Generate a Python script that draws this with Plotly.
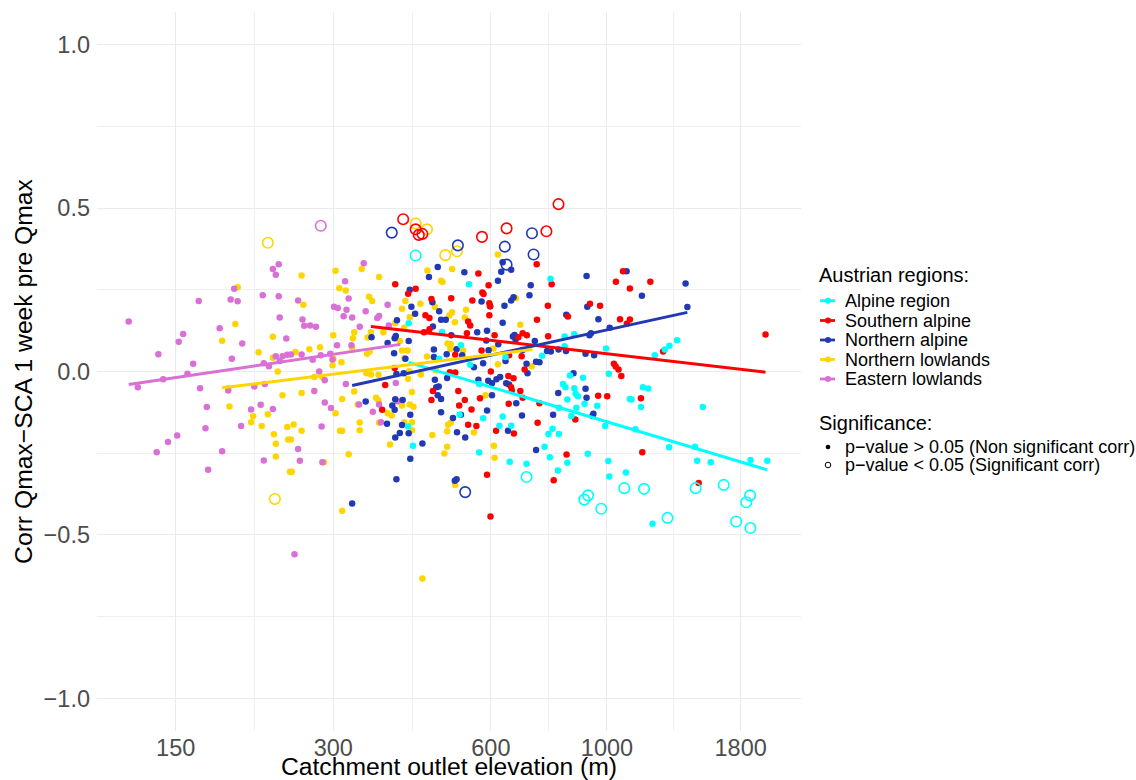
import plotly.graph_objects as go

FONT = "Liberation Sans, Arial, sans-serif"

# ---------------- data (elevation in m, correlation) ----------------
regions = ["Alpine region", "Southern alpine", "Northern alpine", "Northern lowlands", "Eastern lowlands"]
region_colors = ["#00FFFF", "#FF0000", "#2139B5", "#FFD500", "#DA70D6"]

# Eastern lowlands
east_elev = [236, 230, 233, 194, 166, 191, 197, 220, 236, 122,
             237, 182, 155, 152, 201, 244, 139, 162, 192, 233,
             240, 245, 221, 226, 237, 127, 142, 158, 167, 212,
             222, 189, 172, 209, 218, 230, 200, 171, 151, 145,
             138, 184, 221, 173, 343, 316, 321, 257, 381, 301,
             306, 318, 346, 314, 326, 364, 367, 262, 264, 271,
             278, 337, 383, 305, 325, 296, 284, 261, 274, 249,
             299, 282, 289, 317, 395, 276, 289, 297, 336, 367,
             357, 398, 370, 285, 257, 259, 286, 253]
east_corr = [0.328, 0.314, 0.296, 0.253, 0.216, 0.220, 0.215, 0.233, 0.230, 0.153,
             0.165, 0.132, 0.115, 0.091, 0.086, 0.101, 0.053, 0.024, 0.039, 0.047,
             0.047, 0.051, 0.025, 0.016, 0.032, -0.048, -0.024, -0.007, -0.051, -0.046,
             -0.038, -0.058, -0.109, -0.116, -0.102, -0.115, -0.167, -0.174, -0.196, -0.216,
             -0.247, -0.244, -0.272, -0.301, 0.331, 0.276, 0.223, 0.217, 0.204, 0.198,
             0.194, 0.189, 0.184, 0.169, 0.165, 0.164, 0.170, 0.159, 0.140, 0.141,
             0.137, 0.137, 0.141, 0.080, 0.080, 0.054, 0.050, 0.052, 0.036, 0.052,
             0.037, 0.000, -0.027, -0.038, -0.035, -0.060, -0.095, -0.112, -0.101, -0.101,
             -0.123, -0.091, -0.155, -0.168, -0.237, -0.273, -0.278, -0.559]
east_sig_elev = [284]
east_sig_corr = [0.446]

# Northern lowlands
nlow_elev = [197, 195, 184, 230, 216, 230, 235, 189, 190, 240,
             225, 211, 209, 219, 245, 231, 246, 233, 233, 248,
             340, 303, 261, 367, 308, 317, 454, 482, 485, 506,
             351, 356, 263, 412, 406, 440, 469, 506, 500, 512,
             394, 420, 410, 300, 329, 327, 349, 354, 374, 402,
             270, 283, 254, 300, 311, 299, 326, 348, 352, 406,
             416, 410, 453, 496, 503, 502, 276, 286, 354, 366,
             419, 417, 441, 471, 347, 261, 312, 303, 329, 334,
             362, 366, 381, 388, 406, 420, 427, 424, 367, 337,
             337, 309, 312, 252, 261, 410, 424, 424, 385, 464,
             497, 503, 495, 495, 489, 249, 321, 288, 250, 513,
             312, 444, 619, 670, 538, 535, 683, 607, 531, 619,
             718, 586, 557, 608, 610]
nlow_corr = [0.258, 0.145, 0.094, 0.106, 0.059, 0.042, 0.000, -0.051, -0.107, -0.073,
             -0.131, -0.137, -0.155, -0.167, -0.170, -0.192, -0.208, -0.221, -0.260, -0.307,
             0.314, 0.308, 0.294, 0.289, 0.255, 0.248, 0.309, 0.278, 0.274, 0.314,
             0.229, 0.216, 0.204, 0.216, 0.192, 0.207, 0.197, 0.181, 0.171, 0.151,
             0.148, 0.166, 0.134, 0.111, 0.120, 0.102, 0.104, 0.120, 0.120, 0.093,
             0.068, 0.074, 0.060, 0.039, 0.028, 0.019, 0.073, 0.054, 0.061, 0.064,
             0.064, 0.041, 0.046, 0.086, 0.083, 0.069, -0.017, -0.017, -0.009, -0.010,
             0.001, -0.022, -0.009, 0.003, -0.005, -0.066, -0.084, -0.128, -0.061, -0.101,
             -0.080, -0.089, -0.128, -0.135, -0.104, -0.101, -0.108, -0.063, -0.157, -0.156,
             -0.180, -0.181, -0.181, -0.162, -0.181, -0.155, -0.155, -0.180, -0.223, -0.194,
             -0.163, -0.157, -0.183, -0.230, -0.251, -0.208, -0.253, -0.278, -0.307, -0.347,
             -0.426, -0.633, 0.358, 0.224, 0.189, 0.165, 0.143, 0.070, 0.064, 0.022,
             0.016, -0.073, -0.187, -0.227, -0.264]
nlow_sig_elev = [225, 232, 431, 453, 517, 491]
nlow_sig_corr = [0.394, -0.390, 0.453, 0.435, 0.368, 0.356]

# Northern alpine
nalp_elev = [475, 457, 420, 464, 423, 430, 478, 482, 492, 397,
             465, 504, 355, 393, 395, 381, 418, 392, 412, 467,
             467, 494, 516, 396, 409, 469, 495, 472, 477, 346,
             389, 393, 394, 407, 421, 475, 482, 482, 380, 406,
             418, 402, 394, 444, 508, 517, 421, 396, 512, 516,
             326, 632, 656, 628, 534, 619, 715, 914, 1090, 711,
             663, 656, 576, 598, 637, 917, 836, 963, 632, 565,
             590, 661, 666, 669, 728, 926, 932, 1012, 588, 620,
             594, 529, 690, 768, 781, 808, 835, 910, 945, 557,
             580, 640, 702, 732, 743, 705, 625, 615, 863, 568,
             593, 603, 642, 650, 910, 603, 526, 590, 536, 671,
             688, 647, 732, 789, 807, 914, 942, 938, 1413, 1166,
             1424]
nalp_corr = [0.320, 0.289, 0.250, 0.212, 0.198, 0.177, 0.184, 0.158, 0.158, 0.157,
             0.138, 0.111, 0.105, 0.102, 0.109, 0.087, 0.093, 0.056, 0.039, 0.067,
             0.044, 0.053, 0.068, -0.008, -0.005, -0.025, -0.020, -0.048, -0.046, -0.092,
             -0.104, -0.117, -0.085, -0.087, -0.132, -0.073, -0.084, -0.125, -0.160, -0.164,
             -0.189, -0.188, -0.202, -0.220, -0.142, -0.186, -0.267, -0.330, -0.334, -0.330,
             -0.404, 0.334, 0.311, 0.305, 0.304, 0.278, 0.264, 0.292, 0.307, 0.233,
             0.227, 0.217, 0.214, 0.200, 0.201, 0.198, 0.174, 0.160, 0.149, 0.120,
             0.125, 0.107, 0.112, 0.098, 0.093, 0.111, 0.117, 0.134, 0.095, 0.083,
             0.065, 0.050, 0.066, 0.063, 0.061, 0.067, 0.063, 0.054, 0.050, 0.013,
             0.025, 0.032, 0.024, 0.030, 0.028, -0.005, -0.017, -0.024, -0.005, -0.025,
             -0.028, -0.036, -0.036, -0.040, -0.053, -0.073, -0.132, -0.119, -0.202, -0.097,
             -0.135, -0.181, -0.240, -0.132, -0.066, -0.080, -0.129, -0.136, 0.269, 0.232,
             0.197]
nalp_sig_elev = [388, 519, 719, 638, 724, 643, 536]
nalp_sig_corr = [0.425, 0.386, 0.423, 0.382, 0.358, 0.327, -0.369]

# Southern alpine
salp_elev = [394, 431, 417, 462, 504, 450, 458, 458, 447, 513,
             393, 377, 501, 513, 372, 465, 462, 520, 522, 734,
             568, 594, 784, 1073, 1040, 578, 581, 553, 596, 598,
             771, 928, 970, 543, 548, 596, 735, 842, 1059, 1091,
             540, 610, 677, 690, 703, 772, 576, 687, 650, 600,
             696, 648, 663, 1031, 1039, 1052, 1065, 656, 535, 572,
             658, 683, 551, 543, 563, 649, 690, 743, 737, 614,
             664, 870, 962, 1001, 837, 791, 590, 599, 1210, 1106,
             1106, 2008, 1280, 1161, 1168, 1497]
salp_corr = [0.267, 0.253, 0.238, 0.222, 0.224, 0.172, 0.164, 0.129, 0.120, 0.051,
             0.011, -0.041, -0.002, -0.003, -0.117, -0.060, -0.087, -0.060, -0.104, 0.328,
             0.300, 0.264, 0.267, 0.307, 0.275, 0.242, 0.237, 0.217, 0.209, 0.200,
             0.201, 0.207, 0.201, 0.153, 0.141, 0.172, 0.158, 0.168, 0.160, 0.146,
             0.117, 0.111, 0.105, 0.117, 0.111, 0.108, 0.064, 0.047, 0.050, 0.000,
             0.006, -0.014, -0.021, 0.024, 0.015, 0.006, -0.014, -0.048, -0.087, -0.082,
             -0.058, -0.060, -0.116, -0.163, -0.167, -0.099, -0.080, -0.097, -0.157, -0.181,
             -0.190, -0.147, -0.074, -0.076, -0.254, -0.333, -0.316, -0.444, 0.275, 0.254,
             0.159, 0.113, 0.061, -0.082, -0.247, -0.341]
salp_sig_elev = [808, 577, 643, 766, 408, 431, 437, 444]
salp_sig_corr = [0.512, 0.412, 0.438, 0.429, 0.466, 0.435, 0.418, 0.421]

# Alpine region
alp_elev = [418, 484, 478, 417, 426, 523, 545, 780, 830, 866,
            526, 752, 830, 996, 548, 640, 850, 900, 1008, 570,
            824, 833, 866, 580, 632, 623, 656, 570, 652, 702,
            760, 773, 787, 809, 840, 871, 880, 810, 855, 874,
            906, 958, 992, 1106, 778, 840, 919, 806, 1006, 1010,
            1087, 1234, 1290, 1316, 1361, 1171, 1199, 1114, 1161, 1524,
            1133, 1314, 1472, 1487, 1578, 1880, 2024, 1222]
alp_corr = [0.148, 0.121, 0.039, -0.168, -0.227, -0.132, 0.267, 0.284, 0.107, 0.114,
            0.080, 0.048, 0.077, 0.070, 0.021, 0.044, -0.012, -0.019, -0.007, -0.038,
            -0.038, -0.048, -0.051, -0.143, -0.138, -0.166, -0.166, -0.248, -0.276, -0.282,
            -0.230, -0.191, -0.175, -0.191, -0.086, -0.068, -0.076, -0.111, -0.136, -0.111,
            -0.099, -0.105, -0.167, -0.084, -0.262, -0.279, -0.252, -0.303, -0.274, -0.321,
            -0.309, 0.050, 0.067, 0.079, 0.096, -0.048, -0.052, -0.086, -0.109, -0.109,
            -0.177, -0.232, -0.230, -0.273, -0.278, -0.271, -0.273, -0.466]
alp_sig_elev = [431, 702, 920, 905, 975, 1079, 1177, 1477, 1671, 1876, 1845, 1305, 1765, 1879]
alp_sig_corr = [0.355, -0.323, -0.379, -0.392, -0.420, -0.357, -0.359, -0.357, -0.347, -0.379,
                -0.400, -0.448, -0.459, -0.479]

# fitted trend lines (start / end) per region
alp_trend_elev, alp_trend_corr = [418, 2024], [0.028, -0.301]
salp_trend_elev, salp_trend_corr = [354, 2008], [0.138, -0.002]
nalp_trend_elev, nalp_trend_corr = [326, 1424], [-0.043, 0.181]
nlow_trend_elev, nlow_trend_corr = [184, 720], [-0.050, 0.067]
east_trend_elev, east_trend_corr = [122, 403], [-0.040, 0.083]

x_ticks = [150, 300, 600, 1000, 1800]
y_ticks = [-1.0, -0.5, 0.0, 0.5, 1.0]
y_ticktext = ["\u22121.0", "\u22120.5", "0.0", "0.5", "1.0"]
legend_title = "Austrian regions:"
sig_title = "Significance:"
sig_labels = ["p\u2212value > 0.05 (Non significant corr)", "p\u2212value < 0.05 (Significant corr)"]

# ---------------- layout constants ----------------
W, H = 1136, 780
ML, MR, MT, MB = 97, 335, 12, 49
PW, PH = W - ML - MR, H - MT - MB


def paper_x(px):
    return (px - ML) / PW


def paper_y(py):
    return (H - MB - py) / PH


groups = {
    "Eastern lowlands": (east_elev, east_corr, east_sig_elev, east_sig_corr, east_trend_elev, east_trend_corr),
    "Northern lowlands": (nlow_elev, nlow_corr, nlow_sig_elev, nlow_sig_corr, nlow_trend_elev, nlow_trend_corr),
    "Northern alpine": (nalp_elev, nalp_corr, nalp_sig_elev, nalp_sig_corr, nalp_trend_elev, nalp_trend_corr),
    "Southern alpine": (salp_elev, salp_corr, salp_sig_elev, salp_sig_corr, salp_trend_elev, salp_trend_corr),
    "Alpine region": (alp_elev, alp_corr, alp_sig_elev, alp_sig_corr, alp_trend_elev, alp_trend_corr),
}
col = dict(zip(regions, region_colors))
draw_order = ["Northern lowlands", "Eastern lowlands", "Northern alpine", "Southern alpine", "Alpine region"]

fig = go.Figure()
for r in draw_order:
    ex, cy, sx, sy, tx, ty = groups[r]
    fig.add_trace(go.Scatter(x=ex, y=cy, mode="markers", name=r, showlegend=False,
                             marker=dict(size=6.5, color=col[r], line=dict(width=0))))
    fig.add_trace(go.Scatter(x=sx, y=sy, mode="markers", name=r, showlegend=False,
                             marker=dict(size=10.5, symbol="circle-open", color=col[r],
                                         line=dict(width=1.6, color=col[r]))))
for r in regions:
    ex, cy, sx, sy, tx, ty = groups[r]
    fig.add_trace(go.Scatter(x=tx, y=ty, mode="lines", name=r, showlegend=False,
                             line=dict(color=col[r], width=3)))

# ---------------- legend (drawn as text + keys to match spacing) ----------------
annotations = []
shapes = []
key_x0, key_x1, key_cx, text_x, title_x = 820, 835, 828, 843, 817
annotations.append(dict(text=legend_title, x=paper_x(title_x), y=paper_y(275), xref="paper", yref="paper",
                        xanchor="left", yanchor="middle", showarrow=False,
                        font=dict(size=20, color="black", family=FONT)))
item_y = [300.7, 320.5, 340, 359.5, 379]
for r, yy in zip(regions, item_y):
    annotations.append(dict(text=r, x=paper_x(text_x), y=paper_y(yy), xref="paper", yref="paper",
                            xanchor="left", yanchor="middle", showarrow=False,
                            font=dict(size=18, color="black", family=FONT)))
    shapes.append(dict(type="line", xref="paper", yref="paper",
                       x0=paper_x(key_x0), x1=paper_x(key_x1), y0=paper_y(yy), y1=paper_y(yy),
                       line=dict(color=col[r], width=2.8)))
    shapes.append(dict(type="circle", xref="paper", yref="paper", xsizemode="pixel", ysizemode="pixel",
                       xanchor=paper_x(key_cx), yanchor=paper_y(yy), x0=-3, x1=3, y0=-3, y1=3,
                       fillcolor=col[r], line=dict(width=0)))

annotations.append(dict(text=sig_title, x=paper_x(title_x), y=paper_y(423), xref="paper", yref="paper",
                        xanchor="left", yanchor="middle", showarrow=False,
                        font=dict(size=20, color="black", family=FONT)))
sig_y = [447, 465]
for i, (lab, yy) in enumerate(zip(sig_labels, sig_y)):
    annotations.append(dict(text=lab, x=paper_x(text_x), y=paper_y(yy), xref="paper", yref="paper",
                            xanchor="left", yanchor="middle", showarrow=False,
                            font=dict(size=18, color="black", family=FONT)))
    if i == 0:
        shapes.append(dict(type="circle", xref="paper", yref="paper", xsizemode="pixel", ysizemode="pixel",
                           xanchor=paper_x(key_cx), yanchor=paper_y(yy), x0=-2.3, x1=2.3, y0=-2.3, y1=2.3,
                           fillcolor="black", line=dict(width=0)))
    else:
        shapes.append(dict(type="circle", xref="paper", yref="paper", xsizemode="pixel", ysizemode="pixel",
                           xanchor=paper_x(key_cx), yanchor=paper_y(yy), x0=-2.8, x1=2.8, y0=-2.8, y1=2.8,
                           fillcolor="rgba(0,0,0,0)", line=dict(width=1, color="black")))

grid_major = "#EBEBEB"
fig.update_layout(
    width=W, height=H,
    margin=dict(l=ML, r=MR, t=MT, b=MB, autoexpand=False),
    paper_bgcolor="white", plot_bgcolor="white",
    font=dict(family=FONT, color="black"),
    showlegend=False,
    annotations=annotations,
    shapes=shapes,
    xaxis=dict(
        type="log", range=[2.0258, 3.3706], autorange=False,
        tickmode="array", tickvals=x_ticks, ticktext=[str(v) for v in x_ticks],
        tickfont=dict(size=23.5, color="#4D4D4D"),
        showgrid=True, gridcolor=grid_major, gridwidth=1.2,
        zeroline=False, showline=False, ticks="",
        minor=dict(tickvals=[212.1, 424.3, 774.6, 1341.6], showgrid=True,
                   gridcolor="#F0F0F0", gridwidth=0.8, ticks=""),
        title=dict(text="Catchment outlet elevation (m)", font=dict(size=24.7, color="black"), standoff=2),
        automargin=False,
    ),
    yaxis=dict(
        range=[-1.1, 1.1], autorange=False,
        tickmode="array", tickvals=y_ticks, ticktext=y_ticktext,
        tickfont=dict(size=23.5, color="#4D4D4D"),
        ticklabelstandoff=6,
        showgrid=True, gridcolor=grid_major, gridwidth=1.2,
        zeroline=False, showline=False, ticks="",
        minor=dict(tickvals=[-0.75, -0.25, 0.25, 0.75], showgrid=True,
                   gridcolor="#F0F0F0", gridwidth=0.8, ticks=""),
        title=dict(text="Corr Qmax\u2212SCA 1 week pre Qmax", font=dict(size=24.7, color="black"), standoff=3),
        automargin=False,
    ),
)

fig.write_html("out.html")
